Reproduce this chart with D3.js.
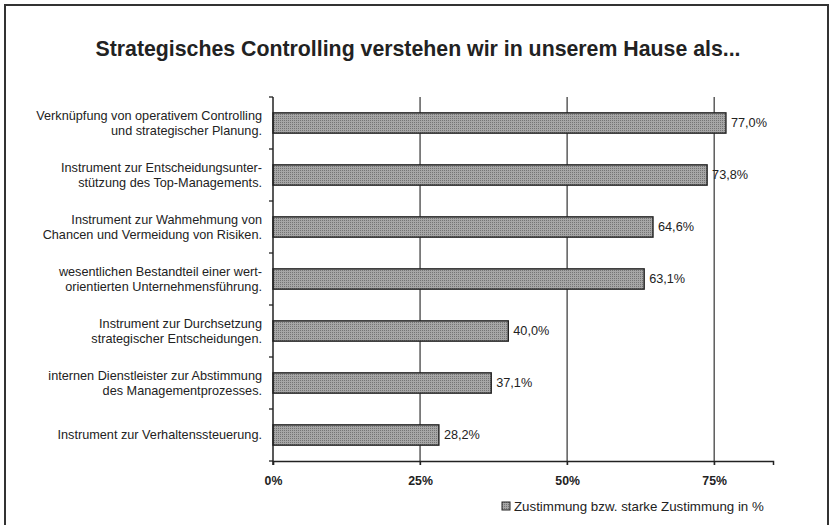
<!DOCTYPE html>
<html>
<head>
<meta charset="utf-8">
<script src="https://d3js.org/d3.v7.min.js"></script>
<style>
  body { margin: 0; background: #fff; }
  text { font-family: "Liberation Sans", Arial, sans-serif; fill: #222; }
</style>
</head>
<body>
<script>
// data
const categories = [
  ["Verknüpfung von operativem Controlling", "und strategischer Planung."],
  ["Instrument zur Entscheidungsunter-", "stützung des Top-Managements."],
  ["Instrument zur Wahmehmung von", "Chancen und Vermeidung von Risiken."],
  ["wesentlichen Bestandteil einer wert-", "orientierten Unternehmensführung."],
  ["Instrument zur Durchsetzung", "strategischer Entscheidungen."],
  ["internen Dienstleister zur Abstimmung", "des Managementprozesses."],
  ["Instrument zur Verhaltenssteuerung."]
];
const values = [77.0, 73.8, 64.6, 63.1, 40.0, 37.1, 28.2];
const tickValues = [0, 25, 50, 75];
const title = "Strategisches Controlling verstehen wir in unserem Hause als...";
const legendLabel = "Zustimmung bzw. starke Zustimmung in %";

const width = 831, height = 525;
const margin = {left: 273, right: 58, top: 97, bottom: 64};

const svg = d3.select("body").append("svg")
  .attr("width", width)
  .attr("height", height);

// stipple pattern for the bars
const defs = svg.append("defs");
const pat = defs.append("pattern")
  .attr("id", "dots")
  .attr("width", 2).attr("height", 2)
  .attr("patternUnits", "userSpaceOnUse");
pat.append("rect").attr("width", 2).attr("height", 2).attr("fill", "#a6a6a6");
pat.append("rect").attr("width", 1).attr("height", 1).attr("fill", "#747474");

// frame
svg.append("rect")
  .attr("x", 5).attr("y", 5)
  .attr("width", width - 8).attr("height", height - 4)
  .attr("fill", "none")
  .attr("stroke", "#333")
  .attr("stroke-width", 2);

svg.append("text")
  .attr("x", 418).attr("y", 56)
  .attr("text-anchor", "middle")
  .style("font-size", "21.3px")
  .style("font-weight", "bold")
  .text(title);

const x = d3.scaleLinear()
  .domain([0, 85])
  .range([margin.left, width - margin.right]);

const y = d3.scaleBand()
  .domain(d3.range(categories.length))
  .range([margin.top, height - margin.bottom])
  .paddingInner(0.61)
  .paddingOuter(0.305);

const plotTop = margin.top, plotBottom = height - margin.bottom;

// vertical gridlines
svg.append("g")
  .selectAll("line")
  .data(tickValues.slice(1))
  .join("line")
    .attr("x1", d => x(d)).attr("x2", d => x(d))
    .attr("y1", plotTop).attr("y2", plotBottom + 4)
    .attr("stroke", "#333")
    .attr("stroke-width", 1.2);

// bars
svg.append("g")
  .selectAll("rect")
  .data(values)
  .join("rect")
    .attr("x", x(0))
    .attr("y", (d, i) => y(i))
    .attr("width", d => x(d) - x(0))
    .attr("height", y.bandwidth())
    .attr("fill", "url(#dots)")
    .attr("stroke", "#222")
    .attr("stroke-width", 1.4);

// value labels
svg.append("g")
  .selectAll("text")
  .data(values)
  .join("text")
    .attr("x", d => x(d) + 5)
    .attr("y", (d, i) => y(i) + y.bandwidth() / 2)
    .attr("dy", "0.35em")
    .style("font-size", "12.7px")
    .text(d => d.toFixed(1).replace(".", ",") + "%");

// y axis line + ticks at band boundaries
const step = y.step();
svg.append("line")
  .attr("x1", x(0)).attr("x2", x(0))
  .attr("y1", plotTop).attr("y2", plotBottom + 4)
  .attr("stroke", "#222").attr("stroke-width", 1.5);
svg.append("g")
  .selectAll("line")
  .data(d3.range(categories.length + 1))
  .join("line")
    .attr("x1", x(0) - 4).attr("x2", x(0))
    .attr("y1", i => plotTop + i * step)
    .attr("y2", i => plotTop + i * step)
    .attr("stroke", "#222").attr("stroke-width", 1.3);

// category labels
const labels = svg.append("g")
  .selectAll("text")
  .data(categories)
  .join("text")
    .attr("text-anchor", "end")
    .style("font-size", "12.7px")
    .attr("transform", (d, i) => `translate(${x(0) - 11},${y(i) + y.bandwidth() / 2})`);
labels.selectAll("tspan")
  .data(d => d.map((line, j) => ({line, j, n: d.length})))
  .join("tspan")
    .attr("x", 0)
    .attr("y", d => (d.j - (d.n - 1) / 2) * 15)
    .attr("dy", "0.35em")
    .text(d => d.line);

// x axis
const xAxis = svg.append("g")
  .attr("transform", `translate(0,${plotBottom})`)
  .call(d3.axisBottom(x).tickValues(tickValues).tickSize(4).tickFormat(d => d + "%"));
xAxis.select(".domain").attr("stroke", "#222").attr("stroke-width", 1.5);
xAxis.selectAll(".tick line").attr("stroke", "#222").attr("stroke-width", 1.2);
xAxis.selectAll(".tick text")
  .attr("y", 15)
  .style("font-size", "12.3px")
  .style("font-weight", "bold")
  .style("font-family", "'Liberation Sans', Arial, sans-serif")
  .attr("fill", "#222");

// legend
svg.append("rect")
  .attr("x", 502).attr("y", 502)
  .attr("width", 8).attr("height", 8)
  .attr("fill", "url(#dots)")
  .attr("stroke", "#222").attr("stroke-width", 1);
svg.append("text")
  .attr("x", 514).attr("y", 506)
  .attr("dy", "0.35em")
  .style("font-size", "13.3px")
  .text(legendLabel);
</script>
</body>
</html>
